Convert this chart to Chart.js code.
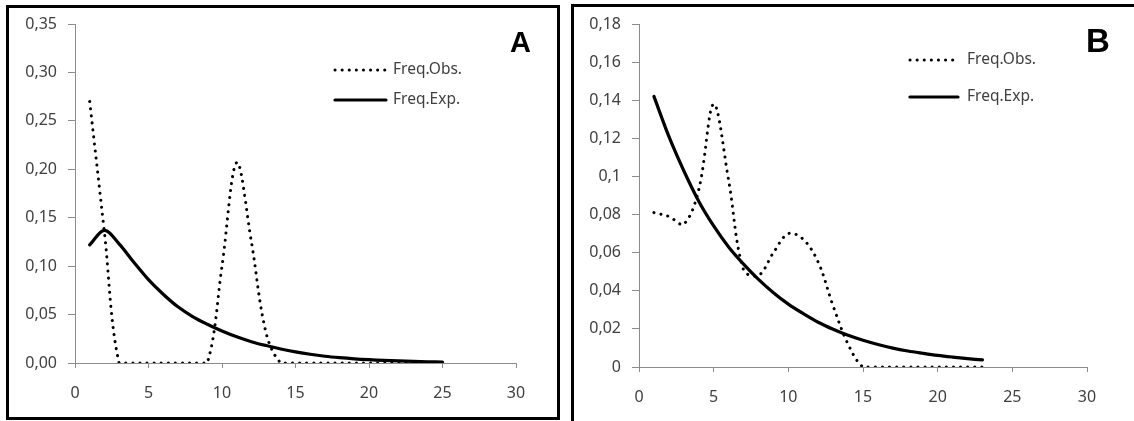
<!DOCTYPE html>
<html>
<head>
<meta charset="utf-8">
<script src="https://cdn.jsdelivr.net/npm/chart.js@4.4.1/dist/chart.umd.min.js"></script>
<style>
  html, body { margin: 0; padding: 0; background: #fff; overflow: hidden; }
  body { width: 1134px; height: 421px; position: relative; }
  .box { position: absolute; box-sizing: border-box; border: 3px solid #000; }
  #boxA { left: 6px; top: 5px; width: 554px; height: 415px; }
  #boxB { left: 571px; top: 4px; width: 620px; height: 500px; }
  canvas { position: absolute; }
  #chartA { left: 9px; top: 8px; }
  #chartB { left: 574px; top: 7px; }
  .tag { position: absolute; font-family: "Liberation Sans", Arial, sans-serif; font-weight: bold; line-height: 1; color: #000; }
  #tagA { left: 510px; top: 28px; font-size: 29px; }
  #tagB { left: 1086px; top: 24px; font-size: 33px; }
</style>
</head>
<body>
<div class="box" id="boxA"></div>
<div class="box" id="boxB"></div>
<canvas id="chartA" width="548" height="409"></canvas>
<canvas id="chartB" width="560" height="414"></canvas>
<div class="tag" id="tagA">A</div>
<div class="tag" id="tagB">B</div>
<script>
// Panel A
const xA = [1, 2, 3, 4, 5, 6, 7, 8, 9, 10, 11, 12, 13, 14, 15, 16, 17, 18, 19, 20, 21, 22, 23, 24, 25];
const obsA = [0.27, 0.135, 0, 0, 0, 0, 0, 0, 0, 0.10, 0.207, 0.125, 0.031, 0, 0, 0, 0, 0, 0, 0, 0, 0, 0, 0, 0];
const expA = [0.122, 0.137, 0.123, 0.104, 0.086, 0.071, 0.058, 0.048, 0.040, 0.033, 0.027, 0.022, 0.018,
  0.0145, 0.0115, 0.009, 0.007, 0.0055, 0.0043, 0.0034, 0.0027, 0.0021, 0.0017, 0.0013, 0.001];

// Panel B
const xB = [1, 2, 3, 4, 5, 6, 7, 8, 9, 10, 11, 12, 13, 14, 15, 16, 17, 18, 19, 20, 21, 22, 23];
const obsB = [0.081, 0.079, 0.075, 0.093, 0.138, 0.098, 0.051, 0.048, 0.060, 0.070, 0.067, 0.055, 0.032,
  0.012, 0, 0, 0, 0, 0, 0, 0, 0, 0];
const expB = [0.142, 0.121, 0.103, 0.087, 0.074, 0.063, 0.054, 0.046, 0.039, 0.033, 0.028, 0.0235, 0.0198,
  0.0166, 0.014, 0.0118, 0.0099, 0.0084, 0.0072, 0.0061, 0.0052, 0.0044, 0.0037];

const seriesNames = ['Freq.Obs.', 'Freq.Exp.'];

const FONT = '"Noto Sans", "Open Sans", sans-serif';
const TEXT = '#404040';
const AXIS = '#8c8c8c';

const toPoints = (xs, ys) => xs.map((x, i) => ({ x: x, y: ys[i] }));

// legend drawn inside the plot, like the original
const innerLegend = {
  id: 'innerLegend',
  afterDraw(chart, args, opts) {
    const ctx = chart.ctx;
    ctx.save();
    chart.data.datasets.forEach((ds, i) => {
      const y = opts.y[i];
      ctx.beginPath();
      ctx.lineWidth = ds.borderWidth;
      ctx.lineCap = 'round';
      ctx.strokeStyle = ds.borderColor;
      ctx.setLineDash(ds.borderDash || []);
      ctx.moveTo(opts.x1, y);
      ctx.lineTo(opts.x2, y);
      ctx.stroke();
      ctx.setLineDash([]);
      ctx.fillStyle = TEXT;
      ctx.font = '15.5px ' + FONT;
      ctx.textBaseline = 'middle';
      ctx.fillText(ds.label, opts.tx, y);
    });
    ctx.restore();
  }
};

function makeChart(id, xs, obs, exp, yMax, yStep, fmt, box, legend) {
  const ctx = document.getElementById(id).getContext('2d');
  return new Chart(ctx, {
    type: 'line',
    data: {
      datasets: [
        {
          label: seriesNames[0],
          data: toPoints(xs, obs),
          borderColor: '#000',
          borderWidth: 3,
          borderDash: [0.1, 7],
          borderCapStyle: 'round',
          pointRadius: 0,
          tension: 0.35,
        },
        {
          label: seriesNames[1],
          data: toPoints(xs, exp),
          borderColor: '#000',
          borderWidth: 3.2,
          borderCapStyle: 'round',
          pointRadius: 0,
          tension: 0.35,
        },
      ],
    },
    options: {
      responsive: false,
      animation: false,
      devicePixelRatio: 1,
      layout: { padding: { top: box.top, right: box.right, left: 0, bottom: 0 } },
      plugins: {
        legend: { display: false },
        tooltip: { enabled: false },
        innerLegend: legend,
      },
      scales: {
        x: {
          type: 'linear',
          min: 0,
          max: 30,
          afterFit: (s) => { s.height = box.xh; s.paddingLeft = 0; s.paddingRight = 0; },
          ticks: { stepSize: 5, color: TEXT, font: { family: FONT, size: 16 }, padding: 16, maxRotation: 0 },
          grid: { drawOnChartArea: false, drawTicks: true, tickLength: 5, color: AXIS },
          border: { color: AXIS, width: 1 },
        },
        y: {
          min: 0,
          max: yMax,
          afterFit: (s) => { s.width = box.yw; s.paddingTop = 0; s.paddingBottom = 0; },
          ticks: { stepSize: yStep, color: TEXT, font: { family: FONT, size: 16 }, padding: 11, callback: fmt },
          grid: { drawOnChartArea: false, drawTicks: true, tickLength: 7, color: AXIS },
          border: { color: AXIS, width: 1 },
        },
      },
    },
    plugins: [innerLegend],
  });
}

makeChart('chartA', xA, obsA, expA, 0.35, 0.05,
  (v) => v.toFixed(2).replace('.', ','),
  { top: 16, right: 41, xh: 54, yw: 66 },
  { x1: 326, x2: 377, tx: 384, y: [62, 92] });

makeChart('chartB', xB, obsB, expB, 0.18, 0.02,
  (v) => String(parseFloat(v.toFixed(2))).replace('.', ','),
  { top: 17, right: 47, xh: 54, yw: 65 },
  { x1: 336, x2: 384, tx: 393, y: [53, 90] });
</script>
</body>
</html>
